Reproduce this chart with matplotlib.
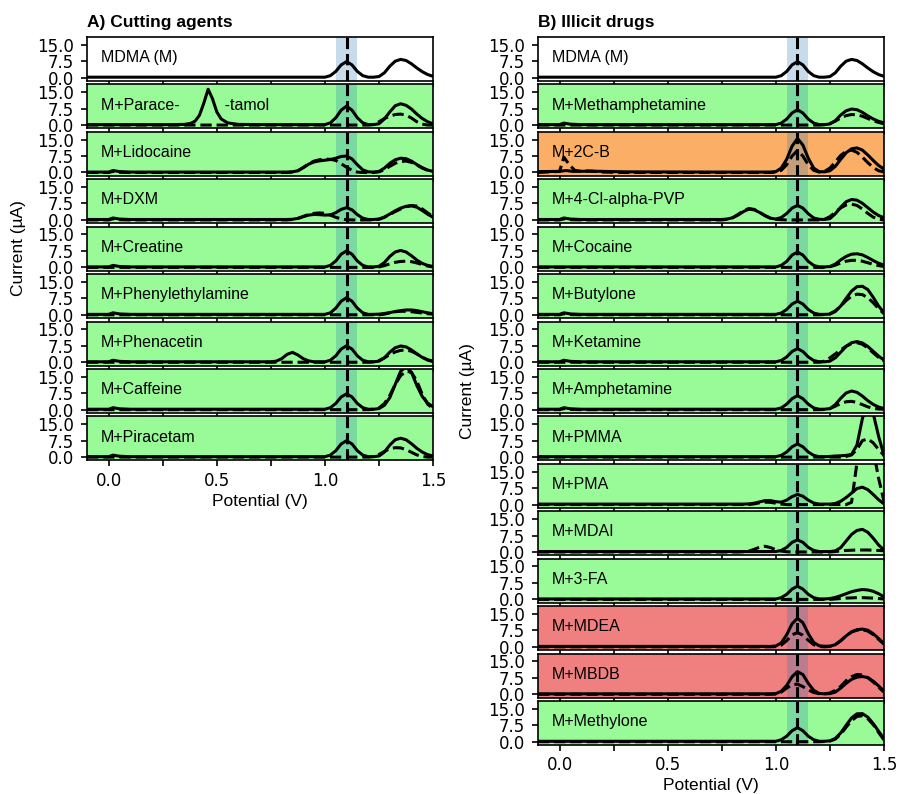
import numpy as np
import matplotlib
matplotlib.use("Agg")
import matplotlib.pyplot as plt
from matplotlib.ticker import MultipleLocator

# potential grid (V) for the region where the peaks are
grid = [0.75, 0.775, 0.8, 0.825, 0.85, 0.875, 0.9, 0.925, 0.95, 0.975,
        1.0, 1.025, 1.05, 1.075, 1.1, 1.125, 1.15, 1.175, 1.2, 1.225,
        1.25, 1.275, 1.3, 1.325, 1.35, 1.375, 1.4, 1.425, 1.45, 1.475, 1.5]

# low-potential parts (x, current) drawn before the grid
flat_s = [(-0.1, 0.2)]
flat_d = [(-0.1, 0.0)]
bump_s = [(-0.1, 0.2), (0.0, 0.2), (0.02, 0.9), (0.05, 0.4), (0.1, 0.2)]
bump_d = [(-0.1, 0.0), (0.0, 0.0), (0.02, 0.5), (0.05, 0.1), (0.1, 0.0)]
para_s = [(-0.1, 0.2), (0.3, 0.2), (0.35, 0.3), (0.38, 0.8), (0.4, 1.8), (0.42, 4.5),
          (0.44, 10.0), (0.46, 16.3), (0.48, 12.0), (0.5, 6.0), (0.52, 2.8),
          (0.55, 1.0), (0.6, 0.3), (0.7, 0.2)]
c2cb_s = [(-0.1, 0.4), (0.0, 0.5), (0.03, 0.9), (0.06, 0.5), (0.15, 0.6), (0.3, 0.3), (0.7, 0.2)]
c2cb_d = [(-0.1, 0.0), (0.0, 0.5), (0.02, 7.0), (0.045, 3.5), (0.07, 1.0), (0.1, 0.5),
          (0.125, 0.7), (0.15, 0.6), (0.2, 0.2), (0.3, 0.0)]

mdma_hi = [0.2, 0.2, 0.2, 0.2, 0.2, 0.2, 0.2, 0.2, 0.2, 0.2,
           0.2, 0.9, 2.8, 5.8, 7.3, 5.8, 2.8, 0.9, 0.2, 0.2,
           0.5, 2.2, 5.2, 7.5, 8.3, 7.8, 6.3, 4.4, 2.7, 1.4, 0.6]

# ---------------- A) cutting agents ----------------
labels_a = ["MDMA (M)", "M+Parace-          -tamol", "M+Lidocaine", "M+DXM", "M+Creatine",
            "M+Phenylethylamine", "M+Phenacetin", "M+Caffeine", "M+Piracetam"]
bg_a = ["white", "green", "green", "green", "green", "green", "green", "green", "green"]
low_s_a = [flat_s, para_s, bump_s, bump_s, bump_s, bump_s, bump_s, bump_s, bump_s]
low_d_a = [None, flat_d, bump_d, bump_d, flat_d, flat_d, flat_d, flat_d, flat_d]
solid_a = [
    mdma_hi,
    [0.2, 0.2, 0.2, 0.2, 0.2, 0.2, 0.2, 0.2, 0.2, 0.2,
     0.2, 1.0, 3.3, 6.8, 8.6, 6.8, 3.3, 1.0, 0.2, 0.2,
     0.6, 2.8, 6.0, 8.8, 9.7, 9.0, 7.3, 5.0, 3.0, 1.5, 0.6],
    [0.2, 0.2, 0.2, 0.2, 0.3, 0.8, 2.2, 3.8, 4.8, 5.3,
     5.6, 5.9, 6.5, 7.3, 7.5, 6.2, 3.5, 1.2, 0.3, 0.2,
     0.5, 2.0, 4.2, 5.8, 6.5, 6.3, 5.2, 3.6, 2.2, 1.1, 0.5],
    [0.2, 0.2, 0.2, 0.2, 0.3, 0.7, 1.5, 2.2, 2.5, 2.4,
     2.2, 2.3, 3.3, 4.8, 5.6, 4.6, 2.4, 0.8, 0.2, 0.2,
     0.4, 1.3, 2.7, 4.2, 5.4, 6.2, 6.4, 5.8, 4.3, 2.6, 1.2],
    [0.2, 0.2, 0.2, 0.2, 0.2, 0.2, 0.2, 0.2, 0.2, 0.2,
     0.2, 0.9, 2.9, 6.0, 7.5, 6.0, 2.9, 0.9, 0.2, 0.2,
     0.5, 2.2, 5.0, 7.0, 7.7, 7.0, 5.3, 3.3, 1.8, 0.9, 0.4],
    [0.2, 0.2, 0.2, 0.2, 0.2, 0.2, 0.2, 0.2, 0.2, 0.2,
     0.2, 0.9, 3.0, 6.2, 7.8, 6.2, 3.0, 0.9, 0.2, 0.2,
     0.3, 0.6, 1.0, 1.5, 1.9, 2.2, 2.2, 1.9, 1.4, 0.9, 0.5],
    [0.2, 0.5, 1.6, 3.6, 4.5, 3.3, 1.6, 0.6, 0.2, 0.2,
     0.2, 0.9, 2.9, 6.0, 7.5, 6.0, 2.9, 0.9, 0.2, 0.2,
     0.5, 2.0, 4.6, 6.6, 7.4, 7.0, 5.6, 3.8, 2.2, 1.1, 0.5],
    [0.2, 0.2, 0.2, 0.2, 0.2, 0.2, 0.2, 0.2, 0.2, 0.2,
     0.2, 0.9, 2.8, 5.8, 7.2, 5.8, 2.8, 0.9, 0.2, 0.2,
     0.5, 2.0, 5.5, 11.5, 17.5, 19.5, 17.0, 11.0, 6.0, 3.0, 1.3],
    [0.2, 0.2, 0.2, 0.2, 0.2, 0.2, 0.2, 0.2, 0.2, 0.2,
     0.2, 0.9, 2.9, 6.0, 7.5, 6.0, 2.9, 0.9, 0.2, 0.2,
     0.5, 2.3, 5.5, 7.9, 8.6, 7.9, 6.1, 4.0, 2.3, 1.1, 0.5],
]
dashed_a = [
    None,
    [0.0, 0.0, 0.0, 0.0, 0.0, 0.0, 0.0, 0.0, 0.0, 0.0,
     0.0, 0.0, 0.0, 0.0, 0.0, 0.0, 0.0, 0.0, 0.0, 0.3,
     1.5, 3.0, 4.0, 4.8, 5.0, 4.5, 3.2, 1.5, 0.4, 0.0, 0.0],
    [0.0, 0.0, 0.0, 0.0, 0.2, 0.8, 2.3, 4.0, 5.2, 5.8,
     6.1, 6.0, 5.5, 4.0, 2.4, 1.0, 0.2, 0.0, 0.0, 0.0,
     0.3, 1.3, 2.8, 4.2, 5.0, 5.2, 4.6, 3.4, 2.0, 1.0, 0.4],
    [0.0, 0.0, 0.0, 0.0, 0.2, 0.7, 1.6, 2.5, 3.0, 3.2,
     3.0, 2.2, 1.2, 0.5, 0.1, 0.0, 0.0, 0.0, 0.0, 0.0,
     0.3, 1.2, 2.5, 3.8, 5.0, 6.0, 6.6, 6.3, 5.0, 3.2, 1.5],
    [0.0, 0.0, 0.0, 0.0, 0.0, 0.0, 0.0, 0.0, 0.0, 0.0,
     0.0, 0.0, 0.0, 0.0, 0.0, 0.0, 0.0, 0.0, 0.0, 0.0,
     0.2, 0.8, 1.6, 2.3, 2.7, 2.8, 2.6, 2.0, 1.3, 0.6, 0.2],
    [0.0, 0.0, 0.0, 0.0, 0.0, 0.0, 0.0, 0.0, 0.0, 0.0,
     0.0, 0.0, 0.0, 0.0, 0.0, 0.0, 0.0, 0.0, 0.0, 0.0,
     0.0, 0.3, 0.9, 1.4, 1.6, 1.6, 1.4, 1.1, 0.8, 0.5, 0.3],
    [0.0, 0.0, 0.0, 0.0, 0.0, 0.0, 0.0, 0.0, 0.0, 0.0,
     0.0, 0.0, 0.0, 0.0, 0.0, 0.0, 0.0, 0.0, 0.0, 0.2,
     0.8, 2.0, 3.5, 4.7, 5.4, 5.6, 5.0, 3.8, 2.3, 1.0, 0.3],
    [0.0, 0.0, 0.0, 0.0, 0.0, 0.0, 0.0, 0.0, 0.0, 0.0,
     0.0, 0.0, 0.0, 0.0, 0.0, 0.0, 0.0, 0.0, 0.0, 0.2,
     0.8, 2.8, 6.5, 11.5, 15.5, 17.5, 17.0, 13.0, 7.0, 2.5, 0.5],
    [0.0, 0.0, 0.0, 0.0, 0.0, 0.0, 0.0, 0.0, 0.0, 0.0,
     0.0, 0.0, 0.0, 0.0, 0.0, 0.0, 0.0, 0.0, 0.0, 0.3,
     1.2, 2.6, 3.8, 4.3, 4.2, 3.4, 2.2, 1.0, 0.3, 0.0, 0.0],
]

# ---------------- B) illicit drugs ----------------
labels_b = ["MDMA (M)", "M+Methamphetamine", "M+2C-B", "M+4-Cl-alpha-PVP", "M+Cocaine",
            "M+Butylone", "M+Ketamine", "M+Amphetamine", "M+PMMA", "M+PMA", "M+MDAI",
            "M+3-FA", "M+MDEA", "M+MBDB", "M+Methylone"]
bg_b = ["white", "green", "orange", "green", "green", "green", "green", "green",
        "green", "green", "green", "green", "red", "red", "green"]
low_s_b = [flat_s, bump_s, c2cb_s, bump_s, flat_s, bump_s, bump_s, bump_s,
           flat_s, flat_s, flat_s, flat_s, flat_s, flat_s, flat_s]
low_d_b = [None, flat_d, c2cb_d, bump_d, flat_d, bump_d, flat_d, bump_d,
           flat_d, flat_d, flat_d, flat_d, flat_d, flat_d, flat_d]
solid_b = [
    mdma_hi,
    [0.2, 0.2, 0.2, 0.2, 0.2, 0.2, 0.2, 0.2, 0.2, 0.2,
     0.2, 0.9, 2.7, 5.5, 7.0, 5.5, 2.7, 0.9, 0.2, 0.2,
     0.5, 2.0, 4.6, 6.5, 7.3, 7.0, 5.8, 4.2, 2.8, 1.7, 1.0],
    [0.2, 0.2, 0.2, 0.2, 0.2, 0.2, 0.2, 0.2, 0.2, 0.2,
     0.4, 2.0, 6.0, 12.0, 15.5, 12.5, 6.5, 2.0, 0.4, 0.3,
     0.8, 2.8, 6.0, 9.0, 10.8, 11.2, 10.2, 8.0, 5.5, 3.2, 1.6],
    [0.2, 0.4, 1.0, 2.2, 3.8, 4.9, 4.6, 3.4, 2.0, 0.8,
     0.4, 1.1, 2.9, 5.4, 6.6, 5.4, 2.8, 0.9, 0.3, 0.2,
     0.6, 2.8, 5.8, 8.3, 9.3, 9.0, 7.6, 5.6, 3.6, 2.0, 1.0],
    [0.2, 0.2, 0.2, 0.2, 0.2, 0.2, 0.2, 0.2, 0.2, 0.2,
     0.2, 0.9, 2.7, 5.6, 7.0, 5.6, 2.7, 0.9, 0.2, 0.2,
     0.4, 1.5, 3.4, 5.0, 6.0, 6.2, 5.7, 4.5, 3.1, 1.9, 1.0],
    [0.2, 0.2, 0.2, 0.2, 0.2, 0.2, 0.2, 0.2, 0.2, 0.2,
     0.2, 0.8, 2.4, 4.9, 6.2, 4.9, 2.4, 0.8, 0.2, 0.2,
     0.3, 1.5, 4.0, 7.5, 10.8, 12.8, 13.0, 11.5, 8.0, 4.0, 1.0],
    [0.2, 0.2, 0.2, 0.2, 0.2, 0.2, 0.2, 0.2, 0.2, 0.2,
     0.2, 0.8, 2.4, 4.9, 6.2, 4.9, 2.4, 0.8, 0.2, 0.2,
     0.5, 2.0, 4.6, 7.2, 8.9, 9.4, 8.8, 7.2, 5.0, 2.8, 1.0],
    [0.2, 0.2, 0.2, 0.2, 0.2, 0.2, 0.2, 0.2, 0.2, 0.2,
     0.2, 0.8, 2.5, 5.0, 6.4, 5.0, 2.5, 0.8, 0.2, 0.2,
     0.5, 2.3, 5.2, 7.6, 8.5, 7.9, 6.2, 4.1, 2.4, 1.2, 0.5],
    [0.2, 0.2, 0.2, 0.2, 0.2, 0.2, 0.2, 0.2, 0.2, 0.2,
     0.2, 0.8, 2.3, 4.7, 6.0, 4.7, 2.3, 0.8, 0.2, 0.2,
     0.3, 0.5, 0.6, 0.8, 1.2, 5.5, 17.5, 25.0, 20.0, 9.5, 0.8],
    [0.2, 0.2, 0.2, 0.2, 0.2, 0.3, 0.6, 1.2, 1.8, 1.8,
     1.3, 1.1, 2.0, 3.6, 4.6, 3.8, 2.0, 0.7, 0.2, 0.2,
     0.2, 0.5, 1.5, 3.2, 5.2, 7.3, 7.9, 6.8, 4.6, 2.2, 0.3],
    [0.2, 0.2, 0.2, 0.2, 0.2, 0.2, 0.2, 0.2, 0.2, 0.2,
     0.2, 0.7, 2.1, 4.4, 5.5, 4.4, 2.1, 0.7, 0.2, 0.2,
     0.2, 0.5, 2.0, 5.0, 8.0, 9.8, 10.3, 9.0, 6.3, 3.2, 0.9],
    [0.2, 0.2, 0.2, 0.2, 0.2, 0.2, 0.2, 0.2, 0.2, 0.2,
     0.2, 0.8, 2.3, 4.7, 6.0, 4.7, 2.3, 0.8, 0.2, 0.2,
     0.4, 0.9, 1.7, 2.6, 3.5, 4.1, 4.5, 4.3, 3.7, 2.6, 1.2],
    [0.2, 0.2, 0.2, 0.2, 0.2, 0.2, 0.2, 0.2, 0.2, 0.2,
     0.4, 1.8, 5.5, 10.5, 13.0, 11.0, 6.0, 2.0, 0.5, 0.3,
     0.3, 1.0, 2.8, 5.0, 6.8, 7.8, 8.1, 7.6, 6.0, 3.8, 1.5],
    [0.2, 0.2, 0.2, 0.2, 0.2, 0.2, 0.2, 0.2, 0.2, 0.2,
     0.3, 1.4, 4.0, 8.0, 10.3, 9.0, 5.0, 1.8, 0.4, 0.2,
     0.3, 1.0, 2.8, 5.0, 6.8, 7.8, 8.1, 7.6, 6.0, 3.8, 1.5],
    [0.2, 0.2, 0.2, 0.2, 0.2, 0.2, 0.2, 0.2, 0.2, 0.2,
     0.2, 0.9, 2.5, 5.0, 6.4, 5.0, 2.5, 0.9, 0.2, 0.2,
     0.4, 1.5, 4.0, 7.5, 10.8, 12.7, 12.8, 11.2, 8.3, 4.8, 1.4],
]
dashed_b = [
    None,
    [0.0, 0.0, 0.0, 0.0, 0.0, 0.0, 0.0, 0.0, 0.0, 0.0,
     0.0, 0.0, 0.0, 0.0, 0.0, 0.0, 0.0, 0.0, 0.0, 0.2,
     0.7, 1.8, 3.2, 4.3, 4.8, 4.7, 4.0, 3.0, 2.0, 1.2, 0.6],
    [0.0, 0.0, 0.0, 0.0, 0.0, 0.0, 0.0, 0.0, 0.0, 0.0,
     0.2, 1.0, 3.5, 7.5, 10.0, 7.5, 3.5, 1.0, 0.2, 0.5,
     2.0, 4.8, 7.8, 9.6, 10.2, 9.2, 7.0, 4.5, 2.3, 0.8, 0.3],
    [0.0, 0.3, 1.0, 2.5, 4.2, 5.2, 4.8, 3.5, 1.9, 0.8,
     0.3, 0.1, 0.0, 0.0, 0.0, 0.0, 0.0, 0.0, 0.0, 0.3,
     1.5, 3.5, 5.5, 6.8, 7.2, 6.6, 5.0, 3.0, 1.3, 0.3, 0.0],
    [0.0, 0.0, 0.0, 0.0, 0.0, 0.0, 0.0, 0.0, 0.0, 0.0,
     0.0, 0.0, 0.0, 0.0, 0.0, 0.0, 0.0, 0.0, 0.0, 0.0,
     0.3, 1.0, 2.0, 2.8, 3.2, 3.2, 2.8, 2.1, 1.4, 0.8, 0.4],
    [0.0, 0.0, 0.0, 0.0, 0.0, 0.0, 0.0, 0.0, 0.0, 0.0,
     0.0, 0.0, 0.0, 0.0, 0.0, 0.0, 0.0, 0.0, 0.0, 0.1,
     0.5, 1.8, 4.0, 6.5, 8.5, 9.4, 9.2, 7.8, 5.5, 2.8, 0.5],
    [0.0, 0.0, 0.0, 0.0, 0.0, 0.0, 0.0, 0.0, 0.0, 0.0,
     0.0, 0.0, 0.0, 0.0, 0.0, 0.0, 0.0, 0.0, 0.0, 0.5,
     2.0, 3.8, 5.6, 7.3, 8.5, 8.9, 8.2, 6.5, 4.3, 2.2, 0.6],
    [0.0, 0.0, 0.0, 0.0, 0.0, 0.0, 0.0, 0.0, 0.0, 0.0,
     0.0, 0.0, 0.0, 0.0, 0.0, 0.0, 0.0, 0.0, 0.0, 0.1,
     0.5, 1.6, 2.8, 3.6, 3.8, 3.3, 2.3, 1.3, 0.6, 0.3, 0.2],
    [0.0, 0.0, 0.0, 0.0, 0.0, 0.0, 0.0, 0.0, 0.0, 0.0,
     0.0, 0.0, 0.0, 0.0, 0.0, 0.0, 0.0, 0.0, 0.0, 0.0,
     0.0, 0.0, 0.0, 0.3, 1.0, 3.5, 7.5, 8.3, 6.5, 3.5, 0.8],
    [0.0, 0.0, 0.0, 0.0, 0.0, 0.0, 0.3, 0.8, 1.1, 1.0,
     0.6, 0.2, 0.0, 0.0, 0.0, 0.0, 0.0, 0.0, 0.0, 0.0,
     0.0, 0.0, 0.0, 0.0, 1.0, 19.0, 27.0, 30.0, 25.0, 12.0, 1.5],
    [0.0, 0.0, 0.0, 0.0, 0.1, 0.4, 1.2, 2.2, 2.6, 2.0,
     1.0, 0.4, 0.1, 0.0, 0.0, 0.0, 0.0, 0.0, 0.0, 0.0,
     0.0, 0.2, 0.5, 0.7, 0.8, 0.9, 0.9, 0.9, 0.8, 0.7, 0.6],
    [0.0, 0.0, 0.0, 0.0, 0.0, 0.0, 0.0, 0.0, 0.0, 0.0,
     0.0, 0.0, 0.0, 0.0, 0.0, 0.0, 0.0, 0.0, 0.0, 0.0,
     0.0, 0.2, 0.4, 0.6, 0.7, 0.8, 0.8, 0.7, 0.6, 0.4, 0.2],
    [0.0, 0.0, 0.0, 0.0, 0.0, 0.0, 0.0, 0.0, 0.0, 0.0,
     0.1, 0.8, 2.8, 5.5, 6.5, 5.3, 3.0, 1.0, 0.2, 0.0,
     0.2, 1.0, 2.8, 5.0, 6.8, 7.6, 7.8, 7.2, 5.6, 3.4, 1.2],
    [0.0, 0.0, 0.0, 0.0, 0.0, 0.0, 0.0, 0.0, 0.0, 0.0,
     0.1, 1.0, 2.8, 4.4, 4.6, 3.5, 2.0, 0.8, 0.3, 0.2,
     0.6, 1.8, 3.6, 6.2, 8.0, 9.0, 8.8, 7.6, 5.6, 3.2, 1.0],
    [0.0, 0.0, 0.0, 0.0, 0.0, 0.0, 0.0, 0.0, 0.0, 0.0,
     0.0, 0.0, 0.0, 0.0, 0.0, 0.0, 0.0, 0.0, 0.0, 0.1,
     0.3, 1.2, 3.4, 6.6, 9.6, 11.5, 11.8, 10.5, 7.8, 4.2, 0.8],
]

colors = {"white": "white", "green": "#98FB98", "orange": "#FAAE66", "red": "#F08080"}
plt.rcParams["font.family"] = "Liberation Sans"


def draw_panel(ax, label, bg, low_s, hi_s, low_d, hi_d, bottom):
    ax.set_facecolor(colors[bg])
    ax.axvspan(1.05, 1.15, color="tab:blue", alpha=0.25, lw=0, zorder=1)
    xs = [p[0] for p in low_s] + grid
    ys = [p[1] for p in low_s] + hi_s
    ax.plot(xs, ys, color="black", lw=2.2, zorder=3)
    if hi_d is not None:
        xd = [p[0] for p in low_d] + grid
        yd = [p[1] for p in low_d] + hi_d
        ax.plot(xd, yd, color="black", lw=2.2, ls="--", zorder=3)
    ax.axvline(1.1, color="black", lw=2.2, ls="--", zorder=4)
    ax.text(0.04, 0.53, label, transform=ax.transAxes, fontsize=11.5, va="center", zorder=5)
    ax.set_xlim(-0.1, 1.5)
    ax.set_ylim(-1.5, 18.5)
    ax.set_yticks([0, 7.5, 15])
    ax.xaxis.set_major_locator(MultipleLocator(0.5))
    ax.xaxis.set_minor_locator(MultipleLocator(0.25))
    ax.tick_params(axis="both", which="both", length=4.5, width=1.2, labelsize=12,
                   labelfontfamily="DejaVu Sans")
    ax.tick_params(axis="y", pad=5)
    for sp in ax.spines.values():
        sp.set_linewidth(1.2)
    if not bottom:
        ax.tick_params(axis="x", labelbottom=False)
    else:
        ax.set_xlabel("Potential (V)", fontsize=12.5, labelpad=3)


fig = plt.figure(figsize=(8.99, 7.94), dpi=100)
gs = fig.add_gridspec(15, 2, left=0.0968, right=0.9833, top=0.9534, bottom=0.0617,
                      wspace=0.303, hspace=0.08)

for i in range(len(labels_a)):
    ax = fig.add_subplot(gs[i, 0])
    draw_panel(ax, labels_a[i], bg_a[i], low_s_a[i], solid_a[i], low_d_a[i], dashed_a[i],
               i == len(labels_a) - 1)
    if i == 0:
        ax.set_title("A) Cutting agents", loc="left", fontweight="bold", fontsize=12.5, pad=7)

for i in range(len(labels_b)):
    ax = fig.add_subplot(gs[i, 1])
    draw_panel(ax, labels_b[i], bg_b[i], low_s_b[i], solid_b[i], low_d_b[i], dashed_b[i],
               i == len(labels_b) - 1)
    if i == 0:
        ax.set_title("B) Illicit drugs", loc="left", fontweight="bold", fontsize=12.5, pad=7)

fig.text(0.021, 0.688, "Current (µA)", rotation=90, va="center", ha="center", fontsize=12.5)
fig.text(0.52, 0.5076, "Current (µA)", rotation=90, va="center", ha="center", fontsize=12.5)

fig.savefig("out.png", dpi=100)
